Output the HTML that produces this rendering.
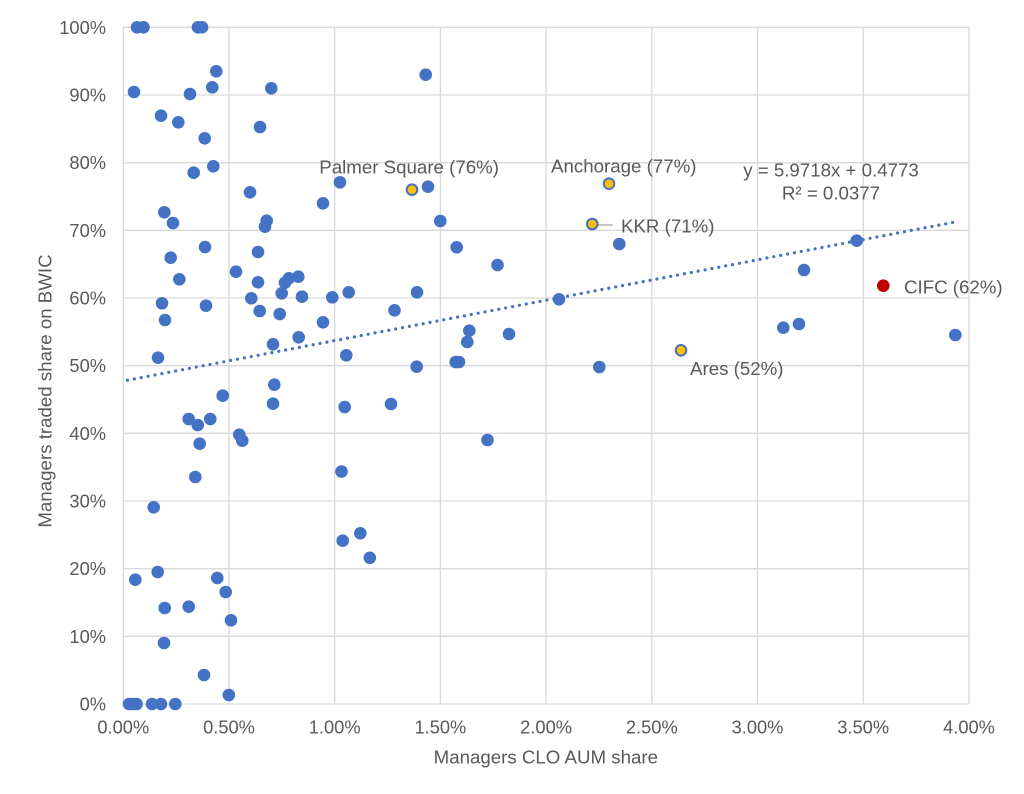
<!DOCTYPE html>
<html>
<head>
<meta charset="utf-8">
<style>
html,body{margin:0;padding:0;background:#fff;}
svg{display:block;}
text{font-family:"Liberation Sans",Arial,sans-serif;fill:#595959;}
</style>
</head>
<body>
<svg width="1024" height="794" viewBox="0 0 1024 794" xmlns="http://www.w3.org/2000/svg">
<rect width="1024" height="794" fill="#fff"/>
<g stroke="#D9D9D9" stroke-width="1.3" fill="none">
<line x1="123.3" y1="27.3" x2="123.3" y2="704"/>
<line x1="229" y1="27.3" x2="229" y2="704"/>
<line x1="334.7" y1="27.3" x2="334.7" y2="704"/>
<line x1="440.4" y1="27.3" x2="440.4" y2="704"/>
<line x1="546.1" y1="27.3" x2="546.1" y2="704"/>
<line x1="651.8" y1="27.3" x2="651.8" y2="704"/>
<line x1="757.5" y1="27.3" x2="757.5" y2="704"/>
<line x1="863.2" y1="27.3" x2="863.2" y2="704"/>
<line x1="969" y1="27.3" x2="969" y2="704"/>
<line x1="123.3" y1="704" x2="969" y2="704"/>
<line x1="123.3" y1="636.3" x2="969" y2="636.3"/>
<line x1="123.3" y1="568.7" x2="969" y2="568.7"/>
<line x1="123.3" y1="501" x2="969" y2="501"/>
<line x1="123.3" y1="433.3" x2="969" y2="433.3"/>
<line x1="123.3" y1="365.7" x2="969" y2="365.7"/>
<line x1="123.3" y1="298" x2="969" y2="298"/>
<line x1="123.3" y1="230.3" x2="969" y2="230.3"/>
<line x1="123.3" y1="162.7" x2="969" y2="162.7"/>
<line x1="123.3" y1="95" x2="969" y2="95"/>
<line x1="123.3" y1="27.3" x2="969" y2="27.3"/>
</g>

<g font-size="18.3" text-anchor="end">
<text x="106" y="710.5">0%</text>
<text x="106" y="642.8">10%</text>
<text x="106" y="575.2">20%</text>
<text x="106" y="507.5">30%</text>
<text x="106" y="439.8">40%</text>
<text x="106" y="372.2">50%</text>
<text x="106" y="304.5">60%</text>
<text x="106" y="236.8">70%</text>
<text x="106" y="169.2">80%</text>
<text x="106" y="101.5">90%</text>
<text x="106" y="33.8">100%</text>
</g>
<g font-size="18.3" text-anchor="middle">
<text x="123.3" y="733.5">0.00%</text>
<text x="229" y="733.5">0.50%</text>
<text x="334.7" y="733.5">1.00%</text>
<text x="440.4" y="733.5">1.50%</text>
<text x="546.1" y="733.5">2.00%</text>
<text x="651.8" y="733.5">2.50%</text>
<text x="757.5" y="733.5">3.00%</text>
<text x="863.2" y="733.5">3.50%</text>
<text x="969" y="733.5">4.00%</text>
</g>

<text x="545.8" y="763.3" font-size="18.7" text-anchor="middle">Managers CLO AUM share</text>
<text transform="translate(51.7,391) rotate(-90)" font-size="18.7" text-anchor="middle">Managers traded share on BWIC</text>

<line x1="127.5" y1="380.2" x2="955.3" y2="222" stroke="#4472C4" stroke-width="3.2" stroke-linecap="round" stroke-dasharray="0 7"/>

<g fill="#4472C4">
<circle cx="137" cy="27.3" r="6.3"/><circle cx="143.5" cy="27.3" r="6.3"/><circle cx="198" cy="27.3" r="6.3"/><circle cx="202" cy="27.3" r="6.3"/>
<circle cx="216.3" cy="71.3" r="6.3"/>
<circle cx="425.7" cy="74.7" r="6.3"/>
<circle cx="134" cy="92" r="6.3"/>
<circle cx="190" cy="94" r="6.3"/>
<circle cx="212.3" cy="87.3" r="6.3"/>
<circle cx="271.3" cy="88.3" r="6.3"/>
<circle cx="161" cy="115.7" r="6.3"/>
<circle cx="178.3" cy="122.3" r="6.3"/>
<circle cx="260" cy="127" r="6.3"/>
<circle cx="204.7" cy="138.3" r="6.3"/>
<circle cx="213.3" cy="166.3" r="6.3"/>
<circle cx="193.7" cy="172.7" r="6.3"/>
<circle cx="340" cy="182.3" r="6.3"/>
<circle cx="428" cy="186.7" r="6.3"/>
<circle cx="250" cy="192.3" r="6.3"/>
<circle cx="323" cy="203.3" r="6.3"/>
<circle cx="164.3" cy="212.3" r="6.3"/>
<circle cx="173" cy="223" r="6.3"/>
<circle cx="266.7" cy="220.7" r="6.3"/>
<circle cx="265" cy="226.7" r="6.3"/>
<circle cx="440.3" cy="221" r="6.3"/>
<circle cx="205" cy="247" r="6.3"/>
<circle cx="456.7" cy="247.3" r="6.3"/>
<circle cx="619.3" cy="244" r="6.3"/>
<circle cx="856.7" cy="240.7" r="6.3"/>
<circle cx="258" cy="252" r="6.3"/>
<circle cx="170.7" cy="257.7" r="6.3"/>
<circle cx="497.5" cy="265" r="6.3"/>
<circle cx="804" cy="270" r="6.3"/>
<circle cx="236" cy="271.7" r="6.3"/>
<circle cx="179.3" cy="279.3" r="6.3"/>
<circle cx="258" cy="282.3" r="6.3"/>
<circle cx="285" cy="282.7" r="6.3"/><circle cx="289" cy="278.3" r="6.3"/><circle cx="298.3" cy="276.7" r="6.3"/>
<circle cx="281.7" cy="293.3" r="6.3"/>
<circle cx="302" cy="296.7" r="6.3"/>
<circle cx="251.3" cy="298.3" r="6.3"/>
<circle cx="332.3" cy="297.3" r="6.3"/>
<circle cx="348.7" cy="292.3" r="6.3"/>
<circle cx="417" cy="292.3" r="6.3"/>
<circle cx="559" cy="299.3" r="6.3"/>
<circle cx="162" cy="303.3" r="6.3"/>
<circle cx="206" cy="305.7" r="6.3"/>
<circle cx="259.7" cy="311" r="6.3"/>
<circle cx="279.7" cy="314" r="6.3"/>
<circle cx="394.5" cy="310.3" r="6.3"/>
<circle cx="165" cy="320" r="6.3"/>
<circle cx="323" cy="322.3" r="6.3"/>
<circle cx="298.7" cy="337.3" r="6.3"/>
<circle cx="469.3" cy="330.7" r="6.3"/>
<circle cx="467.3" cy="342" r="6.3"/>
<circle cx="509" cy="334" r="6.3"/>
<circle cx="783.3" cy="327.7" r="6.3"/><circle cx="799" cy="324" r="6.3"/>
<circle cx="955.3" cy="335" r="6.3"/>
<circle cx="273" cy="344.3" r="6.3"/>
<circle cx="346.3" cy="355.3" r="6.3"/>
<circle cx="158" cy="357.7" r="6.3"/>
<circle cx="455.7" cy="362" r="6.3"/><circle cx="459" cy="362" r="6.3"/>
<circle cx="416.7" cy="366.7" r="6.3"/>
<circle cx="599.3" cy="367" r="6.3"/>
<circle cx="274.3" cy="384.7" r="6.3"/>
<circle cx="222.7" cy="395.7" r="6.3"/>
<circle cx="273" cy="403.7" r="6.3"/>
<circle cx="344.7" cy="407" r="6.3"/>
<circle cx="391" cy="404" r="6.3"/>
<circle cx="188.7" cy="419" r="6.3"/><circle cx="197.7" cy="425" r="6.3"/><circle cx="210.3" cy="419" r="6.3"/>
<circle cx="239.3" cy="434.7" r="6.3"/><circle cx="242.3" cy="440.7" r="6.3"/>
<circle cx="199.7" cy="443.7" r="6.3"/>
<circle cx="487.5" cy="440" r="6.3"/>
<circle cx="341.5" cy="471.5" r="6.3"/>
<circle cx="195.3" cy="477" r="6.3"/>
<circle cx="153.7" cy="507.3" r="6.3"/>
<circle cx="360.3" cy="533.3" r="6.3"/>
<circle cx="342.7" cy="540.7" r="6.3"/>
<circle cx="369.8" cy="557.8" r="6.3"/>
<circle cx="157.7" cy="572" r="6.3"/>
<circle cx="135.3" cy="579.7" r="6.3"/>
<circle cx="217.3" cy="578" r="6.3"/>
<circle cx="225.7" cy="592" r="6.3"/>
<circle cx="164.7" cy="608" r="6.3"/>
<circle cx="188.7" cy="606.7" r="6.3"/>
<circle cx="231" cy="620.3" r="6.3"/>
<circle cx="164" cy="643" r="6.3"/>
<circle cx="204" cy="675" r="6.3"/>
<circle cx="228.8" cy="695" r="6.3"/>
<circle cx="129" cy="704" r="6.3"/><circle cx="133" cy="704" r="6.3"/><circle cx="136.5" cy="704" r="6.3"/>
<circle cx="152" cy="704" r="6.3"/><circle cx="161" cy="704" r="6.3"/><circle cx="175.3" cy="704" r="6.3"/>
</g>

<line x1="598.3" y1="225" x2="612.7" y2="225" stroke="#A6A6A6" stroke-width="1.3"/>

<g fill="#FFC000" stroke="#4472C4" stroke-width="2">
<circle cx="412" cy="189.7" r="5.3"/>
<circle cx="609" cy="183.7" r="5.3"/>
<circle cx="592.3" cy="224" r="5.3"/>
<circle cx="681" cy="350.3" r="5.3"/>
</g>
<circle cx="883.3" cy="285.7" r="6.3" fill="#C00000"/>

<g font-size="18.7">
<text x="319.3" y="173.3">Palmer Square (76%)</text>
<text x="551" y="172.3">Anchorage (77%)</text>
<text x="621" y="232.3">KKR (71%)</text>
<text x="690" y="375">Ares (52%)</text>
<text x="904" y="293.3">CIFC (62%)</text>
<text x="831" y="176.7" text-anchor="middle">y = 5.9718x + 0.4773</text>
<text x="831" y="199.3" text-anchor="middle">R² = 0.0377</text>
</g>
</svg>
</body>
</html>
